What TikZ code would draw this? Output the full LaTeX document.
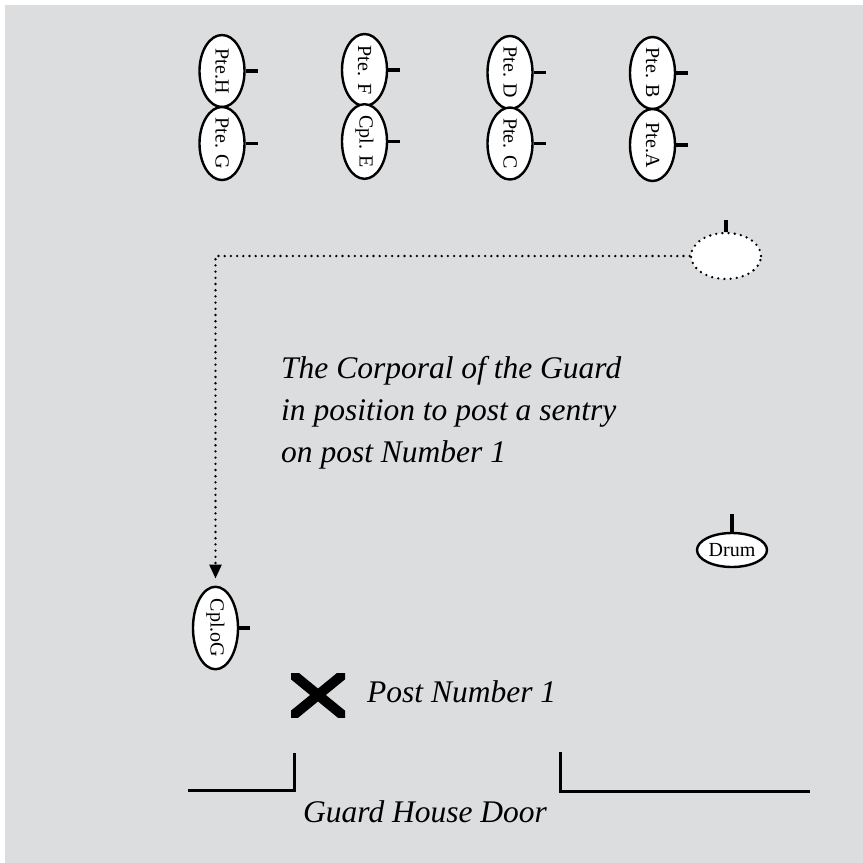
\documentclass[tikz,border=0pt]{standalone}
\usepackage{fontspec}
\setmainfont{Liberation Serif}
\usetikzlibrary{shapes.geometric,arrows.meta}
\definecolor{paper}{RGB}{220,221,223}
\tikzset{
  % soldiers are drawn lying on their side: text reads downwards, the
  % node's north side faces right
  soldier/.style={ellipse,draw=black,line width=2.4pt,fill=white,inner sep=0pt,
    rotate=-90,minimum width=72pt,minimum height=45pt,
    font=\fontsize{20}{20}\selectfont},
  rifle/.style={line width=3.6pt},
  drumbox/.style={ellipse,draw=black,line width=2.4pt,fill=white,inner sep=0pt,
    minimum width=70pt,minimum height=34pt,font=\fontsize{20}{20}\selectfont},
  startbox/.style={ellipse,draw=black,line width=2.6pt,fill=white,inner sep=0pt,
    minimum width=70pt,minimum height=46pt,dash pattern=on 0pt off 6.2pt,line cap=round},
  route/.style={line width=2.6pt,dash pattern=on 0pt off 6.2pt,line cap=round,
    -{Triangle[length=14pt,width=12pt,line cap=butt]}},
  caption/.style={inner sep=0pt,font=\itshape\fontsize{31.5}{42}\selectfont},
  wall/.style={line width=3pt}
}
\begin{document}
\begin{tikzpicture}[x=1pt,y=-1pt]
\useasboundingbox (0,0) rectangle (863,863);
\fill[paper] (5,5) rectangle (863,863);

% the guard in two ranks
\node[soldier] (pteH) at (222,71) {Pte.H};
\node[soldier] (pteG) at (222,143.5) {Pte. G};
\node[soldier] (pteF) at (364.5,70) {Pte. F};
\node[soldier] (cplE) at (364.5,141.5) {Cpl. E};
\node[soldier] (pteD) at (510,72.5) {Pte. D};
\node[soldier] (pteC) at (510,143.5) {Pte. C};
\node[soldier] (pteB) at (652.5,73) {Pte. B};
\node[soldier] (pteA) at (652.5,145) {Pte.A};
\foreach \s in {pteH,pteG,pteF,cplE,pteD,pteC,pteB,pteA}
  \draw[rifle] (\s.north) -- ++(12,0);

% corporal's starting place and his route
\node[startbox] (start) at (726,256) {};
\draw[rifle] (start.north) -- ++(0,-12);
\node[soldier] (cplG) at (215.5,628) {Cpl.oG};
\draw[rifle] (cplG.north) -- ++(11,0);
\coordinate (bend) at (cplG.west |- start.west);
\draw[route,shorten >=7pt] (start.west) -- (bend) -- (cplG.west);

% drummer
\node[drumbox] (drum) at (732,550) {Drum};
\draw[rifle] (drum.north) -- ++(0,-18);

\node[caption,anchor=north west,align=left] (note) at (281,356)
  {The Corporal of the Guard\\in position to post a sentry\\on post Number 1};

% the post
\coordinate (xa) at (291,673);
\coordinate (xb) at (345,717);
\begin{scope}
  \clip (xa) rectangle (xb);
  \draw[line width=10pt] (285,668) -- (351,722) (351,668) -- (285,722);
\end{scope}
\node[caption,anchor=base west] (post) at (367,702) {Post Number 1};

% guard house front
\draw[wall] (188,790) -- (294,790) -- (294,753);
\draw[wall] (560,752) -- (560,791) -- (810,791);
\node[caption,anchor=base west] (door) at (303,822) {Guard House Door};
\end{tikzpicture}
\end{document}
